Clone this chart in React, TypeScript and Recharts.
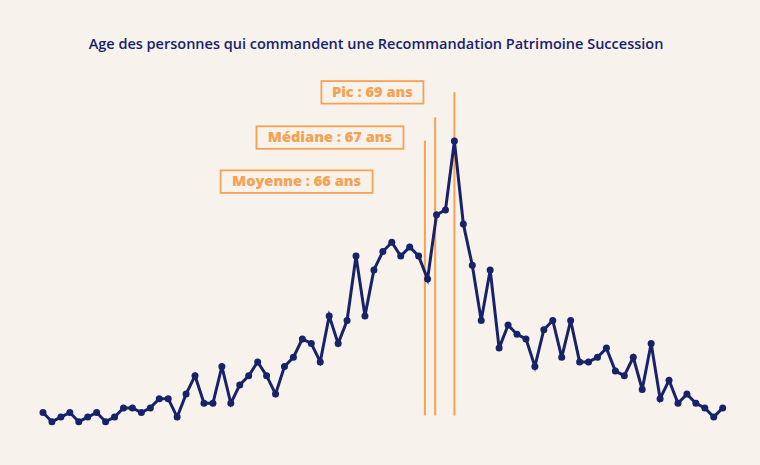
import React from 'react';
import { LineChart, Line, XAxis, YAxis, ReferenceLine } from 'recharts';

const ages: number[] = [];
for (let a = 23; a <= 99; a++) ages.push(a);

const counts = [
  3, 1, 2, 3, 1, 2, 3, 1, 2, 4,
  4, 3, 4, 6, 6, 2, 7, 11, 5, 5,
  13, 5, 9, 11, 14, 11, 7, 13, 15, 19,
  18, 14, 24, 18, 23, 37, 24, 34, 38, 40,
  37, 39, 37, 32, 46, 47, 62, 44, 35, 23,
  34, 17, 22, 20, 19, 13, 21, 23, 15, 23,
  14, 14, 15, 17, 12, 11, 15, 8, 18, 6,
  10, 5, 7, 5, 4, 2, 4,
];

const title = 'Age des personnes qui commandent une Recommandation Patrimoine Succession';

const markerAges = [65.7, 66.85, 69];
const markerLabels = ['Moyenne : 66 ans', 'Médiane : 67 ans', 'Pic : 69 ans'];
const markerTops = [62.1, 67.2, 72.6];
const markerBottom = 2.35;

// annotation layout (box right offset from line, vertical offset of box centre from line top, box width)
const boxLayout = [
  { right: 52.3, dy: 41, w: 152 },
  { right: 31.7, dy: 20.4, w: 147 },
  { right: 31, dy: 0, w: 102 },
];

const data = ages.map((a, i) => ({ age: a, n: counts[i] }));

const NAVY = '#17226b';
const ORANGE = '#f9a152';
const BG = '#f7f3ec';

const makeLabel = (idx: number) => (props: any) => {
  const vb = props.viewBox || {};
  const lx = vb.x ?? 0;
  const ty = vb.y ?? 0;
  const L = boxLayout[idx];
  const h = 22.5;
  const x = lx - L.right - L.w;
  const cy = ty + L.dy;
  return (
    <g>
      <rect x={x} y={cy - h / 2} width={L.w} height={h} fill="none" stroke={ORANGE} strokeWidth={1.8} />
      <text
        x={x + L.w / 2}
        y={cy + 0.5}
        textAnchor="middle"
        dominantBaseline="middle"
        fill={ORANGE}
        fontFamily="'Open Sans', 'Noto Sans', sans-serif"
        fontWeight={800}
        fontSize={14.6}
      >
        {markerLabels[idx]}
      </text>
    </g>
  );
};

export default function App() {
  return (
    <div style={{ position: 'absolute', left: 0, top: 0, width: 760, height: 465, background: BG }}>
      <div
        style={{
          position: 'absolute',
          left: 0,
          top: 34,
          width: 752,
          textAlign: 'center',
          fontFamily: "'Open Sans', 'Noto Sans', sans-serif",
          fontWeight: 600,
          fontSize: 14.5,
          color: NAVY,
          lineHeight: '20px',
        }}
      >
        {title}
      </div>
      <LineChart
        width={760}
        height={465}
        data={data}
        margin={{ top: 58.3, right: 37.3, bottom: 38.7, left: 43 }}
        style={{ position: 'absolute', left: 0, top: 0 }}
      >
        <XAxis dataKey="age" type="number" domain={[23, 99]} hide />
        <YAxis type="number" domain={[0, 80]} hide />
        {markerAges.map((a, i) => (
          <ReferenceLine
            key={i}
            segment={[
              { x: a, y: markerBottom },
              { x: a, y: markerTops[i] },
            ]}
            stroke={ORANGE}
            strokeWidth={2}
            ifOverflow="visible"
            label={makeLabel(i)}
          />
        ))}
        <Line
          type="linear"
          dataKey="n"
          stroke={NAVY}
          strokeWidth={3}
          dot={{ r: 3.5, fill: NAVY, stroke: NAVY, strokeWidth: 0 }}
          activeDot={false}
          isAnimationActive={false}
        />
      </LineChart>
    </div>
  );
}
